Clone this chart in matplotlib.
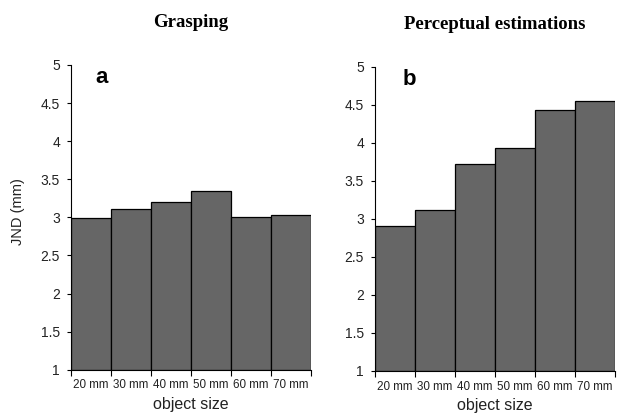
import numpy as np
import matplotlib.pyplot as plt

plt.rcParams['font.family'] = ['Liberation Sans', 'DejaVu Sans']

sizes = ['20 mm', '30 mm', '40 mm', '50 mm', '60 mm', '70 mm']
grasping = [2.99, 3.11, 3.20, 3.34, 3.01, 3.03]
perceptual = [2.90, 3.12, 3.72, 3.93, 4.43, 4.55]
titles = ['Grasping', 'Perceptual estimations']
letters = ['a', 'b']

fig = plt.figure(figsize=(6.18, 4.16), dpi=100)
ax1 = fig.add_axes([0.1149, 0.1113, 0.388, 0.7325])
ax2 = fig.add_axes([0.6068, 0.1082, 0.388, 0.7315])

x = np.arange(len(sizes)) + 0.5
for ax, vals, title, letter, lx in zip([ax1, ax2], [grasping, perceptual], titles, letters, [0.6, 0.68]):
    ax.bar(x, np.array(vals) - 1, bottom=1, width=1.0, color='#666666',
           edgecolor='black', linewidth=0.9)
    ax.set_xlim(0, len(sizes))
    ax.set_ylim(1, 5)
    ax.set_yticks([1, 1.5, 2, 2.5, 3, 3.5, 4, 4.5, 5])
    ax.set_yticklabels(['1', '1.5', '2', '2.5', '3', '3.5', '4', '4.5', '5'], fontsize=10, color='#222222')
    ax.set_xticks(np.arange(len(sizes) + 1))
    ax.set_xticklabels([])
    ax.set_xticks(x, minor=True)
    ax.set_xticklabels(sizes, minor=True, fontsize=8.4, color='#222222')
    ax.tick_params(axis='x', which='minor', length=0, pad=7)
    ax.tick_params(axis='x', which='major', length=4, width=0.8)
    ax.tick_params(axis='y', length=3, width=0.8, pad=5)
    ax.spines['top'].set_visible(False)
    ax.spines['right'].set_visible(False)
    ax.set_xlabel('object size', fontsize=11.5, labelpad=4, color='#222222')
    ax.set_title(title, fontsize=13.5, fontweight='bold', family='Liberation Serif', pad=27)
    ax.text(lx, 4.83, letter, fontsize=16, fontweight='bold', va='center', ha='left')

ax1.set_ylabel('JND (mm)', fontsize=10.5, color='#222222')
ax1.yaxis.set_label_coords(-0.19, 0.52)

plt.savefig('out.png', dpi=100)
